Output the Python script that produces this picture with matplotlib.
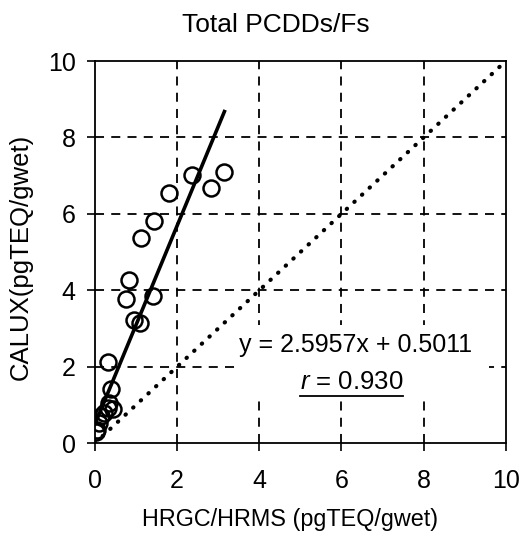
import numpy as np
import matplotlib
matplotlib.use("Agg")
import matplotlib.pyplot as plt
from matplotlib.lines import Line2D
from matplotlib.patches import Rectangle

plt.rcParams['font.family'] = ['Liberation Sans', 'DejaVu Sans']
plt.rcParams['mathtext.fontset'] = 'custom'
plt.rcParams['mathtext.rm'] = 'Liberation Sans'
plt.rcParams['mathtext.it'] = 'Liberation Sans:italic'

# HRGC/HRMS vs CALUX (pgTEQ/gwet)
hrgc = [0.02, 0.05, 0.10, 0.15, 0.22, 0.32, 0.35, 0.45, 0.40, 0.32,
        0.95, 1.10, 0.75, 1.40, 0.82, 1.12, 1.44, 1.80, 2.37, 2.83, 3.15]
calux = [0.28, 0.35, 0.52, 0.70, 0.80, 0.92, 1.05, 0.90, 1.42, 2.13,
         3.22, 3.15, 3.77, 3.86, 4.27, 5.38, 5.82, 6.55, 7.03, 6.68, 7.09]
slope = 2.5957
intercept = 0.5011
r_value = 0.930
ticks = [0, 2, 4, 6, 8, 10]

fig = plt.figure(figsize=(5.22, 5.45), dpi=100)
ax = fig.add_axes([0.182, 0.187, 0.787, 0.701])

# grid only at inner ticks
for t in ticks[1:-1]:
    ax.axvline(t, color='black', lw=1.3, ls=(0, (5, 4)), zorder=1)
    ax.axhline(t, color='black', lw=1.3, ls=(0, (5, 4)), zorder=1)

# 1:1 line
ax.plot([0, 10], [0, 10], color='black', lw=3, ls=(0, (0.1, 2.4)),
        dash_capstyle='round', zorder=2)

# regression line
xfit = np.array([0, max(hrgc)])
ax.plot(xfit, slope * xfit + intercept, color='black', lw=2.6, zorder=3)

ax.plot(hrgc, calux, 'o', mfc='none', mec='black', ms=11.5, mew=1.8, zorder=4)

ax.set_xlim(0, 10)
ax.set_ylim(0, 10)
ax.set_xticks(ticks)
ax.set_yticks(ticks)
ax.tick_params(axis='both', direction='out', length=6, width=1.2, labelsize=18)
ax.tick_params(axis='x', pad=13)
ax.tick_params(axis='y', pad=8)
for s in ax.spines.values():
    s.set_linewidth(1.3)

# white text box (covers the grid)
ax.add_patch(Rectangle((0.34, 0.118), 0.62, 0.19, transform=ax.transAxes,
                       facecolor='white', edgecolor='none', zorder=5))
ax.text(6.35, 2.57, 'y = 2.5957x + 0.5011', fontsize=18, ha='center', va='center',
        zorder=6)
rt = ax.text(6.25, 1.6, '$r$ = %.3f' % r_value, fontsize=18.5, ha='center',
             va='center', zorder=6)

fig.text(0.529, 0.954, 'Total PCDDs/Fs', fontsize=19, ha='center', va='center')
fig.text(0.556, 0.046, 'HRGC/HRMS (pgTEQ/gwet)', fontsize=16.8, ha='center', va='center')
fig.text(0.040, 0.528, 'CALUX(pgTEQ/gwet)', fontsize=18.5, ha='center', va='center',
         rotation=90)

# underline under r value
fig.canvas.draw()
bb = rt.get_window_extent()
fig.add_artist(Line2D([bb.x0, bb.x1], [bb.y0 - 2, bb.y0 - 2], color='black', lw=1.3,
                      transform=None))

fig.savefig('out.png', dpi=100)
